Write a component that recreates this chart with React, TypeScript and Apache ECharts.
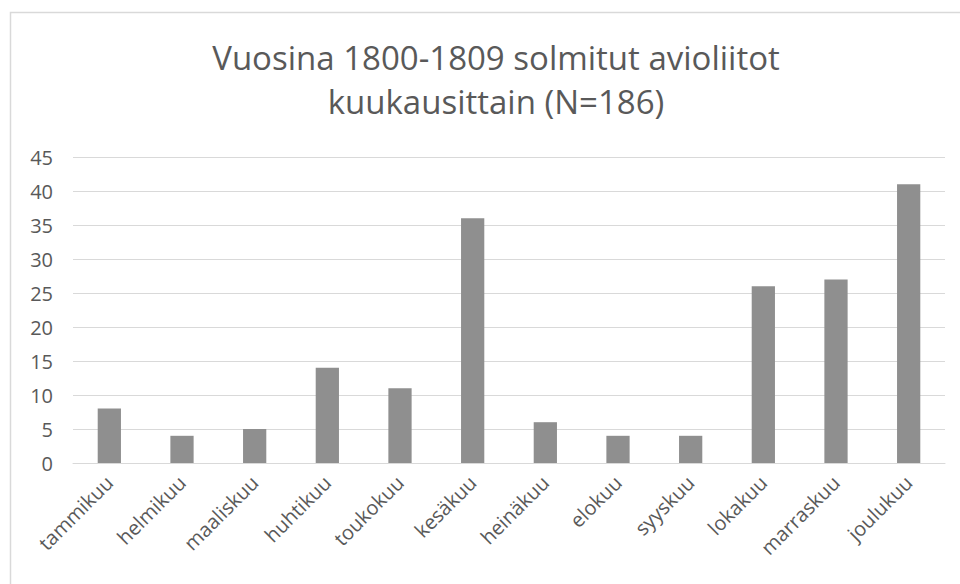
import React, { useEffect, useRef } from "react";
import * as echarts from "echarts";

const titleLines = ["Vuosina 1800-1809 solmitut avioliitot", "kuukausittain (N=186)"];
const months = [
  "tammikuu", "helmikuu", "maaliskuu", "huhtikuu", "toukokuu", "kesäkuu",
  "heinäkuu", "elokuu", "syyskuu", "lokakuu", "marraskuu", "joulukuu",
];
const marriages = [8, 4, 5, 14, 11, 36, 6, 4, 4, 26, 27, 41];
const yMin = 0;
const yMax = 45;
const yStep = 5;

const FONT = "'Open Sans', 'Noto Sans', sans-serif";
const TEXT = "#595959";

export default function App() {
  const ref = useRef<HTMLDivElement>(null);
  useEffect(() => {
    if (!ref.current) return;
    const chart = echarts.init(ref.current, null, { renderer: "svg" });
    chart.setOption({
      animation: false,
      backgroundColor: "#ffffff",
      textStyle: { fontFamily: FONT },
      title: {
        text: titleLines.join("\n"),
        left: 491,
        textAlign: "center",
        top: 30,
        textStyle: {
          fontFamily: FONT,
          fontSize: 33,
          fontWeight: "normal",
          color: TEXT,
          lineHeight: 44,
        },
      },
      graphic: [
        {
          type: "rect",
          shape: { x: 10.5, y: 12.5, width: 1000, height: 1000 },
          style: { fill: "none", stroke: "#d9d9d9", lineWidth: 1.5 },
          silent: true,
          z: -1,
        },
      ],
      grid: { left: 73, right: 15, top: 157, bottom: 121 },
      xAxis: {
        type: "category",
        data: months,
        axisLine: { show: true, lineStyle: { color: "#d9d9d9", width: 1 } },
        axisTick: { show: false },
        axisLabel: {
          rotate: 45,
          interval: 0,
          margin: 16,
          fontFamily: FONT,
          fontSize: 20,
          color: TEXT,
        },
      },
      yAxis: {
        type: "value",
        min: yMin,
        max: yMax,
        interval: yStep,
        axisLine: { show: false },
        axisTick: { show: false },
        splitLine: { lineStyle: { color: "#d9d9d9", width: 1 } },
        axisLabel: {
          margin: 20,
          fontFamily: FONT,
          fontSize: 20,
          color: TEXT,
        },
      },
      series: [
        {
          type: "bar",
          data: marriages,
          barWidth: "32%",
          itemStyle: { color: "#8f8f8f" },
        },
      ],
    });
    return () => chart.dispose();
  }, []);
  return (
    <div
      ref={ref}
      style={{ position: "fixed", left: 0, top: 0, width: 960, height: 584 }}
    />
  );
}
